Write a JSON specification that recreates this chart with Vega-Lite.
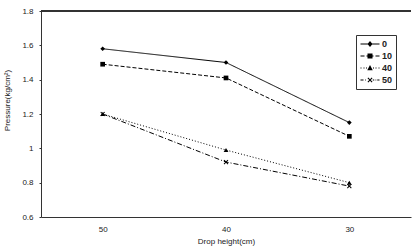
{
  "$schema": "https://vega.github.io/schema/vega-lite/v6.json",
  "autosize": "none",
  "width": 370,
  "height": 206,
  "padding": {"left": 41, "top": 11, "right": 1, "bottom": 35},
  "background": "white",
  "config": {
    "view": {"stroke": null},
    "font": "Liberation Sans",
    "axis": {"labelFont": "Liberation Sans", "titleFont": "Liberation Sans", "labelColor": "#222", "titleColor": "#222", "domainColor": "#333", "tickColor": "#333", "grid": false, "labelFontSize": 8, "titleFontSize": 8, "titleFontWeight": "normal"},
    "legend": {"title": null, "orient": "none", "labelFontSize": 9, "labelFont": "Liberation Sans", "labelFontWeight": "bold", "labelColor": "#222", "rowPadding": 0}
  },
  "data": {
    "values": [
      {"h": "50", "s": "0", "p": 1.58},
      {"h": "40", "s": "0", "p": 1.50},
      {"h": "30", "s": "0", "p": 1.15},
      {"h": "50", "s": "10", "p": 1.49},
      {"h": "40", "s": "10", "p": 1.41},
      {"h": "30", "s": "10", "p": 1.07},
      {"h": "50", "s": "40", "p": 1.20},
      {"h": "40", "s": "40", "p": 0.99},
      {"h": "30", "s": "40", "p": 0.80},
      {"h": "50", "s": "50", "p": 1.20},
      {"h": "40", "s": "50", "p": 0.92},
      {"h": "30", "s": "50", "p": 0.78}
    ]
  },
  "encoding": {
    "x": {"field": "h", "type": "ordinal", "sort": ["50", "40", "30"], "scale": {"type": "point", "padding": 0.5},
      "axis": {"title": "Drop height(cm)", "labelAngle": 0, "ticks": false, "labelPadding": 8, "titlePadding": 4}},
    "y": {"field": "p", "type": "quantitative", "scale": {"domain": [0.6, 1.8], "nice": false},
      "axis": {"title": "Pressure(kg/cm²)", "values": [0.6, 0.8, 1, 1.2, 1.4, 1.6, 1.8], "format": "~g", "tickSize": 2, "labelPadding": 6, "titlePadding": 10, "titleY": 89}}
  },
  "layer": [
    {
      "mark": {"type": "rule", "color": "#333", "strokeWidth": 1},
      "encoding": {"y": {"datum": 1.8}, "x": null}
    },
    {
      "mark": {"type": "line", "color": "black", "strokeWidth": 1},
      "encoding": {
        "detail": {"field": "s"},
        "strokeDash": {"field": "s", "type": "nominal", "scale": {"domain": ["0", "10", "40", "50"], "range": [[1, 0], [4, 2], [1, 2], [5, 2, 1, 2]]}, "legend": null}
      }
    },
    {
      "mark": {"type": "point", "filled": true, "color": "black", "opacity": 1},
      "encoding": {
        "shape": {"field": "s", "type": "nominal", "scale": {"domain": ["0", "10", "40", "50"], "range": ["diamond", "square", "triangle-up", "M-1,-0.7L-0.7,-1L0,-0.3L0.7,-1L1,-0.7L0.3,0L1,0.7L0.7,1L0,0.3L-0.7,1L-1,0.7L-0.3,0Z"]}, "legend": null},
        "size": {"value": 22}
      }
    },
    {
      "mark": {"type": "point", "filled": true, "color": "black", "opacity": 0},
      "encoding": {
        "shape": {"field": "s", "type": "nominal", "scale": {"domain": ["0", "10", "40", "50"], "range": [
          "M-1.9,-0.1L1.9,-0.1L1.9,0.1L-1.9,0.1ZM0,-0.6L0.5,0L0,0.6L-0.5,0Z",
          "M-1.9,-0.1L-1.1,-0.1L-1.1,0.1L-1.9,0.1ZM-0.7,-0.1L-0.5,-0.1L-0.5,0.1L-0.7,0.1ZM0.5,-0.1L0.7,-0.1L0.7,0.1L0.5,0.1ZM1.1,-0.1L1.9,-0.1L1.9,0.1L1.1,0.1ZM-0.5,-0.5L0.5,-0.5L0.5,0.5L-0.5,0.5Z",
          "M-1.9,-0.1L-1.7,-0.1L-1.7,0.1L-1.9,0.1ZM-1.3,-0.1L-1.1,-0.1L-1.1,0.1L-1.3,0.1ZM-0.8,-0.1L-0.6,-0.1L-0.6,0.1L-0.8,0.1ZM0.6,-0.1L0.8,-0.1L0.8,0.1L0.6,0.1ZM1.1,-0.1L1.3,-0.1L1.3,0.1L1.1,0.1ZM1.7,-0.1L1.9,-0.1L1.9,0.1L1.7,0.1ZM0,-0.6L0.55,0.45L-0.55,0.45Z",
          "M-1.9,-0.1L-1.3,-0.1L-1.3,0.1L-1.9,0.1ZM-1.0,-0.1L-0.85,-0.1L-0.85,0.1L-1.0,0.1ZM0.55,-0.1L0.85,-0.1L0.85,0.1L0.55,0.1ZM1.1,-0.1L1.25,-0.1L1.25,0.1L1.1,0.1ZM1.45,-0.1L1.9,-0.1L1.9,0.1L1.45,0.1ZM-0.5,-0.35L-0.35,-0.5L0,-0.15L0.35,-0.5L0.5,-0.35L0.15,0L0.5,0.35L0.35,0.5L0,0.15L-0.35,0.5L-0.5,0.35L-0.15,0Z"
        ]},
          "legend": {"legendX": 315, "legendY": 24, "symbolSize": 100, "symbolFillColor": "black", "symbolOpacity": 1, "symbolOffset": 5, "labelOffset": 6, "padding": 3, "strokeColor": "#333"}},
        "size": {"value": 22}
      }
    }
  ],
  "resolve": {"scale": {"shape": "independent"}, "legend": {"shape": "independent"}}
}
